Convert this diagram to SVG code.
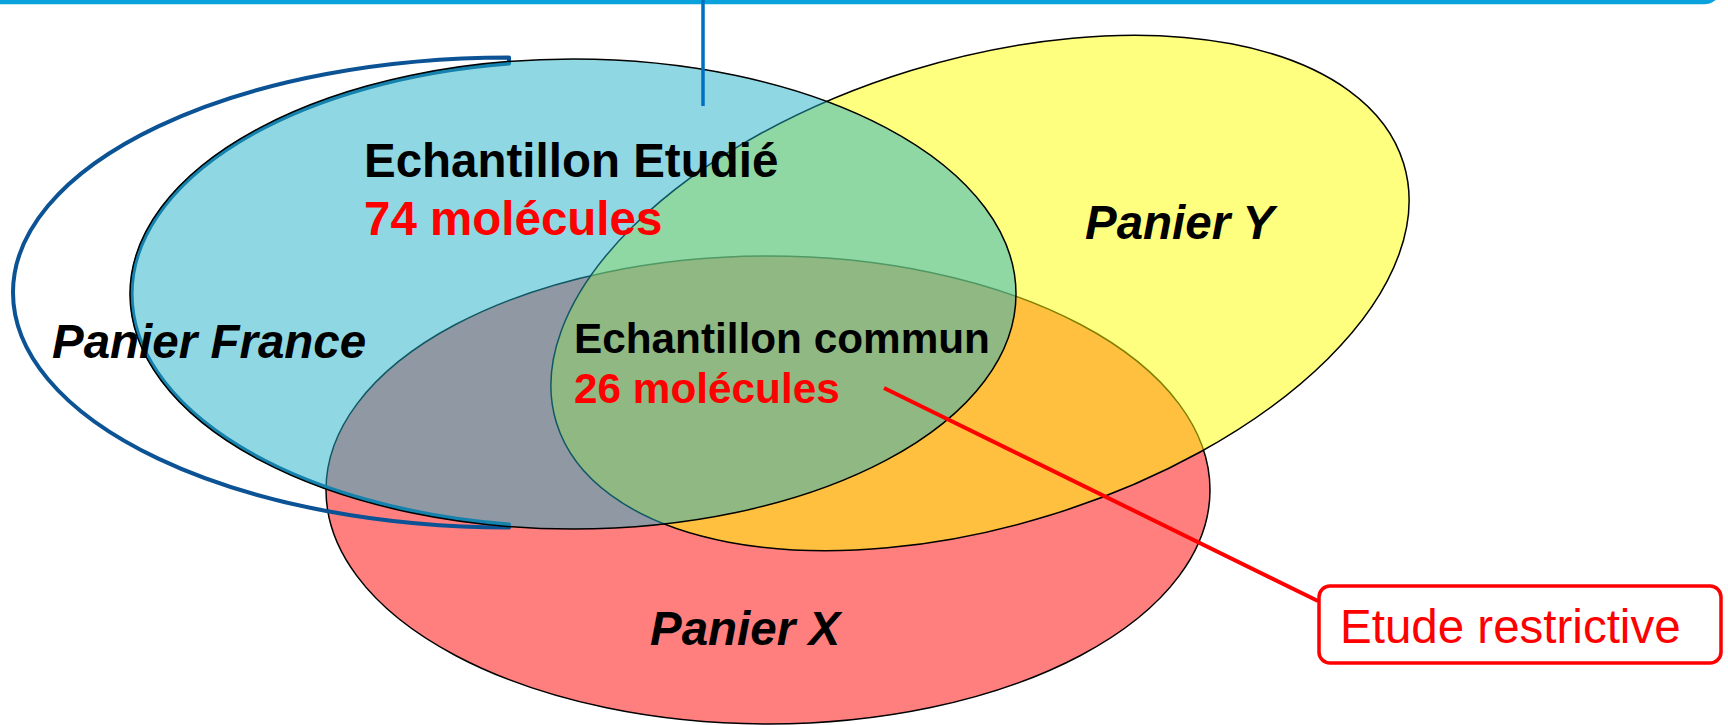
<svg xmlns="http://www.w3.org/2000/svg" width="1728" height="725" viewBox="0 0 1728 725">
<style>
.set{stroke:#000;stroke-width:1.5}
.lbl{font-family:"Liberation Sans",Arial,sans-serif;font-weight:bold}
.it{font-style:italic}
.red{fill:#ff0000}
.blk{fill:#000}
</style>
<rect width="1728" height="725" fill="#fff"/>
<g id="topbar">
<rect x="-20" y="-60" width="1740" height="62" rx="16" fill="none" stroke="#0aa2dc" stroke-width="4.5"/>
</g>
<g id="panierX">
<ellipse class="set" cx="768" cy="490" rx="442" ry="234" fill="#ff0000" fill-opacity="0.5"/>
</g>
<g id="panierY">
<ellipse class="set" cx="980" cy="293" rx="443" ry="233" transform="rotate(-17 980 293)" fill="#ffff00" fill-opacity="0.5"/>
</g>
<g id="panierFrance">
<path d="M509 57.5 A496 235 0 0 0 509 527.5 L509 524.5 A442 233 0 0 1 509 63.5 Z" fill="none" stroke="#0b5394" stroke-width="4" stroke-linejoin="round"/>
</g>
<g id="echantillonEtudie">
<ellipse class="set" cx="573" cy="294" rx="443" ry="235" fill="#1fb1c7" fill-opacity="0.5"/>
</g>
<g id="connectors">
<line x1="703" y1="0" x2="703" y2="106" stroke="#0070c0" stroke-width="3.5"/>
<line x1="884" y1="388" x2="1318" y2="601" stroke="#ff0000" stroke-width="4"/>
</g>
<g id="labels">
<text class="lbl blk" x="364" y="177" font-size="47.5">Echantillon Etudié</text>
<text class="lbl red" x="364" y="235" font-size="47.5">74 molécules</text>
<text class="lbl blk it" x="52" y="358" font-size="47.5">Panier France</text>
<text class="lbl blk it" x="1085" y="239" font-size="47.5">Panier Y</text>
<text class="lbl blk it" x="650" y="645" font-size="47.5">Panier X</text>
<text class="lbl blk" x="574" y="353" font-size="42.3">Echantillon commun</text>
<text class="lbl red" x="574" y="403" font-size="42.3">26 molécules</text>
</g>
<g id="etudeRestrictive">
<rect x="1319" y="586" width="402" height="77" rx="11" fill="#fff" stroke="#ff0000" stroke-width="3.5"/>
<text x="1340" y="643" font-family="Liberation Sans, Arial, sans-serif" font-size="47.5" fill="#ff0000">Etude restrictive</text>
</g>
</svg>
